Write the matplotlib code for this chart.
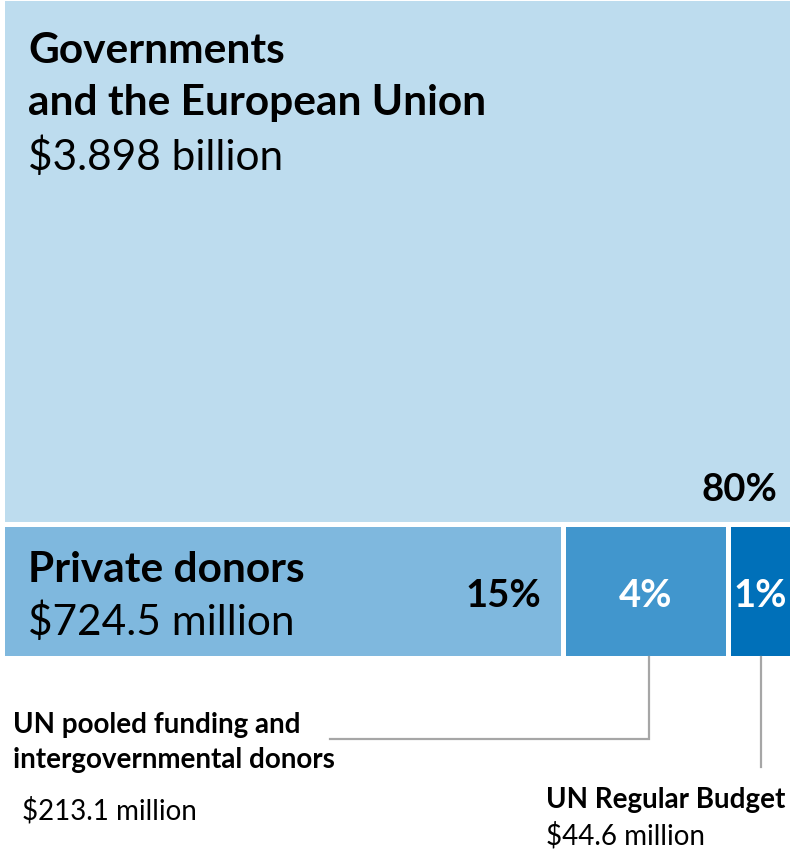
import matplotlib
matplotlib.use("Agg")
import matplotlib.pyplot as plt
from matplotlib.patches import Rectangle

plt.rcParams['font.family'] = ['Lato', 'DejaVu Sans']

# funding sources (US$ million)
names = [["Governments", "and the European Union"], ["Private donors"],
         ["UN pooled funding and", "intergovernmental donors"], ["UN Regular Budget"]]
amounts = [3898.0, 724.5, 213.1, 44.6]
amount_labels = ["$3.898 billion", "$724.5 million", "$213.1 million", "$44.6 million"]
shares = ["80%", "15%", "4%", "1%"]
colors = ["#bddcee", "#7fb8de", "#4196cd", "#0070b9"]

W, H = 790, 853
fig = plt.figure(figsize=(W / 100, H / 100), dpi=100)
ax = fig.add_axes([0, 0, 1, 1])
ax.set_xlim(0, W)
ax.set_ylim(H, 0)
ax.axis("off")

# treemap: one big row on top, the rest in a row below
x0, y0, x1, y1 = 5, 2, 790, 657
gap = 5
total = sum(amounts)
top_h = (y1 - y0) * amounts[0] / total + 3
rects = [(x0, y0, x1 - x0, top_h - gap)]
row_y = y0 + top_h
row_h = y1 - row_y
min_w = 59
rest = amounts[1:3]
avail = (x1 - x0) - min_w
x = x0
for a in rest:
    w = avail * a / sum(rest)
    rects.append((x, row_y, w - gap, row_h))
    x += w
rects.append((x, row_y, x1 - x, row_h))

for (rx, ry, rw, rh), c in zip(rects, colors):
    ax.add_patch(Rectangle((rx, ry), rw, rh, facecolor=c, edgecolor="none"))

big = 30.5
pct = 27.5
small = 20

# governments
rx, ry, rw, rh = rects[0]
ax.text(rx + 23, 63, names[0][0], fontsize=big, fontweight="bold", va="baseline")
ax.text(rx + 23, 115, names[0][1], fontsize=big, fontweight="bold", va="baseline")
ax.text(rx + 23, 170, amount_labels[0], fontsize=big, va="baseline")
ax.text(rx + rw - 13, ry + rh - 22, shares[0], fontsize=pct,
        fontweight="bold", ha="right", va="baseline")

# private donors
rx, ry, rw, rh = rects[1]
ax.text(rx + 23, 582, names[1][0], fontsize=big, fontweight="bold", va="baseline")
ax.text(rx + 23, 635, amount_labels[1], fontsize=big, va="baseline")
ax.text(rx + rw - 20, 607, shares[1], fontsize=pct,
        fontweight="bold", ha="right", va="baseline")

# small boxes
for i in (2, 3):
    rx, ry, rw, rh = rects[i]
    ax.text(rx + rw / 2, 607, shares[i], fontsize=pct,
            fontweight="bold", color="white", ha="center", va="baseline")

# callouts
line_c = "#a6a6a6"
rx, ry, rw, rh = rects[2]
cx = rx + rw / 2 + 3
ax.plot([cx, cx, 330], [ry + rh + 1, 740, 740], color=line_c, lw=1.6,
        solid_joinstyle="miter")
ax.text(13, 733, names[2][0], fontsize=small, fontweight="bold", va="baseline")
ax.text(13, 768, names[2][1], fontsize=small, fontweight="bold", va="baseline")
ax.text(22, 820, amount_labels[2], fontsize=small, va="baseline")

rx, ry, rw, rh = rects[3]
cx = rx + rw / 2
ax.plot([cx, cx], [ry + rh + 1, 768], color=line_c, lw=1.6)
ax.text(546, 808, names[3][0], fontsize=small, fontweight="bold", va="baseline")
ax.text(546, 845, amount_labels[3], fontsize=small, va="baseline")

fig.savefig("out.png", dpi=100, facecolor="white")
